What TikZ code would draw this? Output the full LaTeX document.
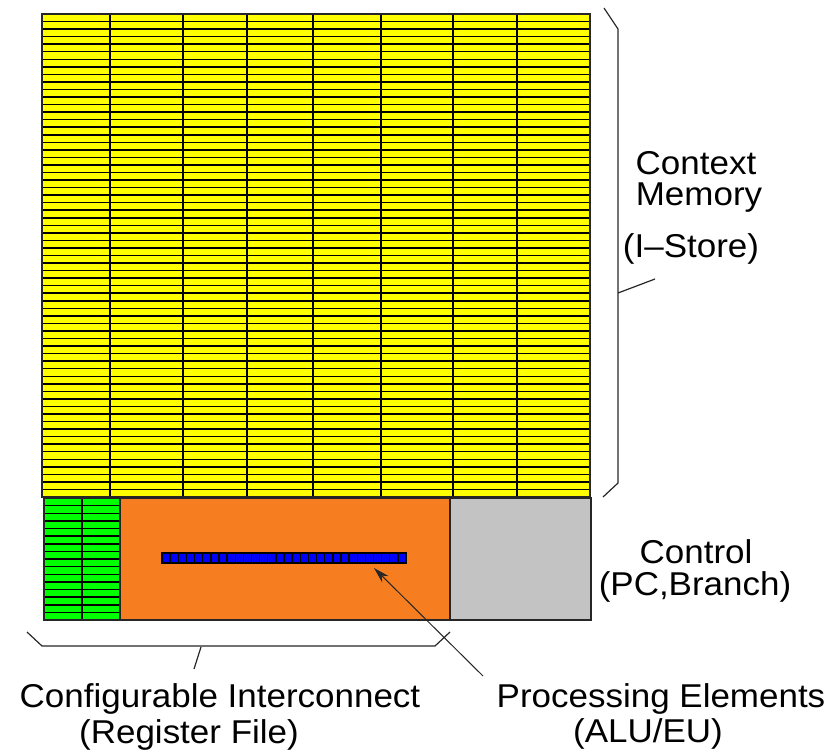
\documentclass[tikz,border=0pt]{standalone}
\usepackage{fontspec}
\setmainfont{Liberation Sans}[FakeStretch=1.06]
\usetikzlibrary{arrows.meta}

\definecolor{storeyellow}{RGB}{255,255,0}
\definecolor{regsgreen}{RGB}{0,255,0}
\definecolor{peorange}{RGB}{246,125,32}
\definecolor{ctrlgray}{RGB}{195,195,195}
\definecolor{alublue}{RGB}{0,0,255}

\tikzset{
  rowline/.style={black, line width=1.5pt},
  colline/.style={black, line width=1.3pt},
  blockedge/.style={black!85, line width=1.6pt},
  bracket/.style={black!85, line width=1.2pt, line join=miter},
  lbl/.style={font=\fontsize{33}{36}\selectfont, inner sep=0pt, anchor=base},
  pointer/.style={black!85, line width=1pt, -{Stealth[length=16pt, width=9pt]}}
}

\begin{document}
\begin{tikzpicture}[x=1pt, y=-1pt]
  \useasboundingbox (0,0) rectangle (838,755);

  % context memory: 8 columns x 64 rows (row pitch 483/64)
  \fill[storeyellow] (42,14) rectangle (590,497);
  \foreach \i in {1,...,63}
    \draw[rowline] (42,{14+\i*7.546875}) -- (590,{14+\i*7.546875});
  \foreach \x in {110,183,247,313,381,453,517}
    \draw[colline] (\x,14) -- (\x,497);
  \draw[blockedge] (42,14) rectangle (590,497);

  % register file: 2 columns x 16 rows (row pitch 122/16)
  \fill[regsgreen] (44,498) rectangle (120,620);
  \foreach \i in {1,...,15}
    \draw[rowline] (44,{498+\i*7.625}) -- (120,{498+\i*7.625});
  \draw[colline] (82,498) -- (82,620);
  \draw[blockedge] (44,498) rectangle (120,620);

  % processing elements and control
  \draw[blockedge, fill=peorange] (120,498) rectangle (450,620);
  \draw[blockedge, fill=ctrlgray] (450,498) rectangle (591,620);

  % ALU/EU row
  \draw[black, line width=1.3pt, fill=alublue] (162,553) rectangle (406,563);
  \foreach \k in {1,...,29}
    \draw[black, line width=1.4pt] ({162+\k*8.1333},553) -- ({162+\k*8.1333},563);

  % bracket beside the context memory
  \draw[bracket] (604,8) -- (618,29) -- (618,483) -- (603,497);
  \draw[bracket] (618,293) -- (655,279);

  % bracket under the register file and processing elements
  \draw[bracket] (27,632) -- (42,646) -- (435,646) -- (450,632);
  \draw[bracket] (201,647) -- (194,669);

  % labels
  \node[lbl] (ctx1) at (696,174) {Context};
  \node[lbl] (ctx2) at (699,205) {Memory};
  \node[lbl] (ctx3) at (691,257) {(I–Store)};
  \node[lbl] (ctl1) at (696,563) {Control};
  \node[lbl] (ctl2) at (695,595) {(PC,Branch)};
  \node[lbl] (ic1) at (220,707) {Configurable Interconnect};
  \node[lbl] (ic2) at (189,743) {(Register File)};
  \node[lbl] (pe1) at (661,707) {Processing Elements};
  \node[lbl] (pe2) at (648,742) {(ALU/EU)};

  % pointer to the ALU row
  \coordinate (petail) at (483,676);
  \coordinate (petip) at (374,568);
  \draw[pointer] (petail) -- (petip);
\end{tikzpicture}
\end{document}
